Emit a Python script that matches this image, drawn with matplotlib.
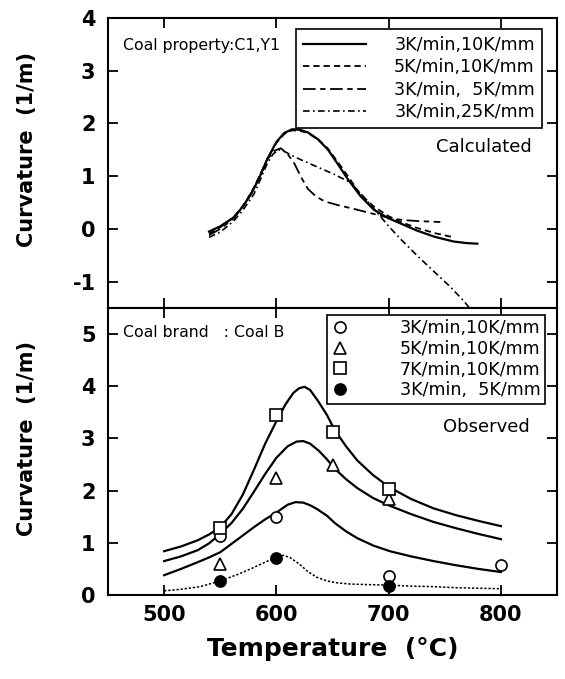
import matplotlib
matplotlib.use("Agg")
import matplotlib.pyplot as plt

plt.rcParams['font.family'] = ['DejaVu Sans']

# ---------------- Calculated (upper panel) ----------------
calc_labels = ["3K/min,10K/mm", "5K/min,10K/mm", "3K/min,  5K/mm", "3K/min,25K/mm"]

t_a = [540, 550, 562, 570, 578, 585, 592, 600, 607, 614, 621, 628, 637, 646, 655, 664, 675, 687, 700, 711, 725, 741, 758, 770, 779]
c_a = [-0.05, 0.05, 0.22, 0.42, 0.68, 0.98, 1.33, 1.65, 1.82, 1.89, 1.88, 1.83, 1.70, 1.50, 1.22, 0.93, 0.62, 0.36, 0.20, 0.10, -0.03, -0.15, -0.24, -0.27, -0.28]

t_b = [540, 550, 562, 570, 578, 585, 592, 600, 607, 614, 621, 628, 637, 646, 655, 664, 675, 687, 700, 711, 725, 741, 758]
c_b = [-0.09, 0.03, 0.22, 0.43, 0.70, 1.00, 1.33, 1.63, 1.80, 1.87, 1.86, 1.82, 1.70, 1.52, 1.26, 0.99, 0.65, 0.42, 0.24, 0.13, 0.02, -0.08, -0.16]

t_c = [540, 550, 562, 570, 578, 585, 592, 598, 604, 610, 616, 622, 628, 635, 643, 655, 667, 680, 691, 700, 712, 725, 746]
c_c = [-0.12, 0.00, 0.20, 0.42, 0.70, 1.00, 1.32, 1.48, 1.53, 1.42, 1.24, 0.98, 0.76, 0.62, 0.52, 0.45, 0.39, 0.32, 0.26, 0.21, 0.17, 0.15, 0.13]

t_d = [540, 550, 562, 570, 580, 586, 592, 597, 602, 608, 615, 622, 637, 651, 666, 676, 687, 700, 711, 725, 741, 755, 767, 772]
c_d = [-0.16, -0.06, 0.15, 0.35, 0.66, 0.95, 1.25, 1.42, 1.50, 1.46, 1.38, 1.31, 1.17, 1.04, 0.88, 0.65, 0.38, 0.05, -0.20, -0.50, -0.82, -1.10, -1.37, -1.50]

# ---------------- Observed (lower panel) ----------------
obs_labels = ["3K/min,10K/mm", "5K/min,10K/mm", "7K/min,10K/mm", "3K/min,  5K/mm"]

circ_T = [550, 600, 700, 800]
circ_C = [1.14, 1.50, 0.36, 0.57]
tri_T = [550, 600, 650, 700]
tri_C = [0.60, 2.25, 2.49, 1.84]
sq_T = [550, 600, 650, 700]
sq_C = [1.28, 3.45, 3.12, 2.03]
dot_T = [550, 600, 700]
dot_C = [0.27, 0.71, 0.18]

fit_T = [500, 515, 530, 540, 550, 560, 570, 580, 590, 600, 608, 615, 620, 625, 630, 637, 645, 652, 662, 672, 686, 701, 720, 740, 760, 780, 800]
fit_sq = [0.84, 0.93, 1.05, 1.16, 1.30, 1.55, 1.92, 2.40, 2.90, 3.33, 3.65, 3.87, 3.96, 3.99, 3.93, 3.72, 3.45, 3.16, 2.85, 2.58, 2.30, 2.06, 1.84, 1.66, 1.53, 1.42, 1.32]

fit2_T = [500, 515, 530, 540, 550, 560, 570, 580, 590, 600, 610, 618, 624, 630, 638, 645, 652, 662, 672, 686, 701, 720, 740, 760, 780, 800]
fit_tri = [0.65, 0.74, 0.86, 0.99, 1.17, 1.38, 1.65, 1.98, 2.32, 2.63, 2.85, 2.94, 2.95, 2.90, 2.76, 2.60, 2.42, 2.22, 2.05, 1.86, 1.71, 1.55, 1.40, 1.28, 1.17, 1.07]

fit3_T = [500, 515, 530, 540, 550, 560, 570, 580, 590, 600, 610, 617, 624, 630, 636, 645, 652, 662, 672, 686, 701, 720, 740, 760, 780, 800]
fit_circ = [0.38, 0.50, 0.63, 0.72, 0.82, 0.98, 1.14, 1.30, 1.45, 1.58, 1.73, 1.78, 1.77, 1.72, 1.65, 1.52, 1.38, 1.22, 1.09, 0.95, 0.84, 0.74, 0.65, 0.57, 0.50, 0.44]

fit4_T = [500, 515, 532, 550, 565, 577, 590, 600, 606, 612, 620, 628, 636, 645, 655, 666, 680, 700, 720, 740, 760, 780, 800]
fit_dot = [0.08, 0.11, 0.16, 0.27, 0.39, 0.50, 0.63, 0.72, 0.76, 0.72, 0.60, 0.45, 0.34, 0.27, 0.23, 0.21, 0.20, 0.19, 0.17, 0.16, 0.14, 0.13, 0.12]

x_ticks = [500, 600, 700, 800]
y_ticks_top = [-1, 0, 1, 2, 3, 4]
y_ticks_bot = [0, 1, 2, 3, 4, 5]

# ---------------- Figure ----------------
fig = plt.figure(figsize=(5.65, 6.79), dpi=100)
ax1 = fig.add_axes([0.1912, 0.5464, 0.7947, 0.4271])
ax2 = fig.add_axes([0.1912, 0.1237, 0.7947, 0.4227])

for ax in (ax1, ax2):
    ax.set_xlim(450, 850)
    ax.set_xticks(x_ticks)
    for s in ax.spines.values():
        s.set_linewidth(1.5)
    ax.tick_params(direction='in', length=7, width=1.3, top=True, right=True,
                   labelsize=15, pad=9)

ax1.set_ylim(-1.5, 4)
ax1.set_yticks(y_ticks_top)
ax1.set_yticklabels([str(v) for v in y_ticks_top], fontweight='bold')
ax1.tick_params(labelbottom=False)

ax2.set_ylim(0, 5.5)
ax2.set_yticks(y_ticks_bot)
ax2.set_yticklabels([str(v) for v in y_ticks_bot], fontweight='bold')
ax2.set_xticklabels([str(v) for v in x_ticks], fontweight='bold')
ax2.tick_params(axis='x', pad=7)

# upper curves
lc = 'black'
h1, = ax1.plot(t_a, c_a, color=lc, lw=1.6, ls='-')
h2, = ax1.plot(t_b, c_b, color=lc, lw=1.3, ls=(0, (3.5, 2.2)))
h3, = ax1.plot(t_c, c_c, color=lc, lw=1.3, ls=(0, (7, 2.5, 3, 2.5)))
h4, = ax1.plot(t_d, c_d, color=lc, lw=1.2, ls=(0, (4, 2, 1, 2)))

leg1 = ax1.legend([h1, h2, h3, h4], calc_labels, loc='upper left',
                  bbox_to_anchor=(0.419, 0.962), borderaxespad=0,
                  fontsize=12.6, handlelength=3.6, handletextpad=1.6,
                  labelspacing=0.25, borderpad=0.4, fancybox=False,
                  framealpha=1, edgecolor='black')
leg1.get_frame().set_linewidth(1.2)

ax1.text(0.034, 0.905, "Coal property:C1,Y1", transform=ax1.transAxes,
         fontsize=11.3, va='center', ha='left')
ax1.text(0.73, 0.555, "Calculated", transform=ax1.transAxes,
         fontsize=13, va='center', ha='left')

# lower panel
ax2.plot(fit_T, fit_sq, color=lc, lw=1.6)
ax2.plot(fit2_T, fit_tri, color=lc, lw=1.6)
ax2.plot(fit3_T, fit_circ, color=lc, lw=1.6)
ax2.plot(fit4_T, fit_dot, color=lc, lw=1.1, ls=(0, (1.5, 1.2)))

ms = 8
m1, = ax2.plot(circ_T, circ_C, 'o', ms=ms, mfc='white', mec='black', mew=1.2, ls='none', zorder=5)
m2, = ax2.plot(tri_T, tri_C, '^', ms=ms, mfc='white', mec='black', mew=1.2, ls='none', zorder=5)
m3, = ax2.plot(sq_T, sq_C, 's', ms=ms, mfc='white', mec='black', mew=1.2, ls='none', zorder=5)
m4, = ax2.plot(dot_T, dot_C, 'o', ms=ms, mfc='black', mec='black', mew=1.2, ls='none', zorder=5)

leg2 = ax2.legend([m1, m2, m3, m4], obs_labels, loc='upper left',
                  bbox_to_anchor=(0.488, 0.976), borderaxespad=0,
                  fontsize=12.6, handlelength=1.0, handletextpad=2.9,
                  labelspacing=0.15, borderpad=0.25, fancybox=False,
                  framealpha=1, edgecolor='black')
leg2.get_frame().set_linewidth(1.2)

ax2.text(0.034, 0.913, "Coal brand   : Coal B", transform=ax2.transAxes,
         fontsize=11.3, va='center', ha='left')
ax2.text(0.745, 0.585, "Observed", transform=ax2.transAxes,
         fontsize=13, va='center', ha='left')

# labels
ax1.set_ylabel("Curvature  (1/m)", fontsize=15, fontweight='bold')
ax2.set_ylabel("Curvature  (1/m)", fontsize=15, fontweight='bold')
ax1.yaxis.set_label_coords(-0.158, 0.545)
ax2.yaxis.set_label_coords(-0.158, 0.544)
ax2.set_xlabel("Temperature  (°C)", fontsize=18, fontweight='bold', labelpad=9)

fig.savefig("out.png", dpi=100)
